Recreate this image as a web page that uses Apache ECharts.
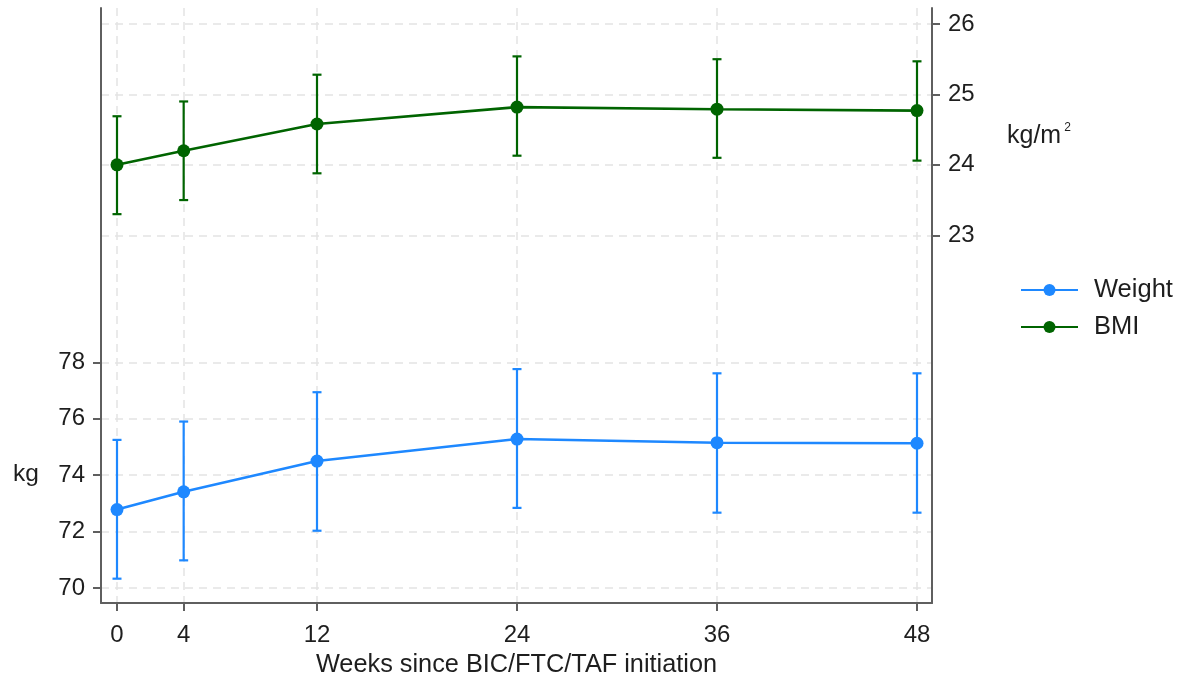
<!DOCTYPE html>
<html>
<head>
<meta charset="utf-8">
<script src="https://cdn.jsdelivr.net/npm/echarts@6/dist/echarts.min.js"></script>
<style>
  html, body { margin: 0; padding: 0; background: #fff; }
  #chart { width: 1185px; height: 686px; }
</style>
</head>
<body>
<div id="chart"></div>
<script>
// Visit weeks and summary values (mean with 95% CI)
const weeks = [0, 4, 12, 24, 36, 48];
const weightMean = [72.78, 73.41, 74.50, 75.28, 75.15, 75.13];
const weightLow  = [70.33, 70.98, 72.03, 72.84, 72.67, 72.67];
const weightHigh = [75.25, 75.90, 76.94, 77.76, 77.61, 77.61];
const bmiMean = [24.00, 24.20, 24.58, 24.82, 24.79, 24.77];
const bmiLow  = [23.30, 23.50, 23.88, 24.13, 24.10, 24.06];
const bmiHigh = [24.69, 24.90, 25.28, 25.54, 25.50, 25.47];

// Tick labels
const weekTicks = [0, 4, 12, 24, 36, 48];
const kgTicks = [70, 72, 74, 76, 78];
const bmiTicks = [23, 24, 25, 26];

const FONT = "'Liberation Sans', Arial, sans-serif";
const TEXT = '#1e1e1e';
const AXIS = '#5f5f5f';
const GRID = '#e3e3e3';
const BLUE = '#1e88ff';
const GREEN = '#006400';

const pairs = (xs, ys) => xs.map((x, i) => [x, ys[i]]);
const ranges = (xs, lo, hi) => xs.map((x, i) => [x, lo[i], hi[i]]);

function errorBars(color) {
  return function (params, api) {
    const x = api.value(0);
    const lo = api.coord([x, api.value(1)]);
    const hi = api.coord([x, api.value(2)]);
    const cap = 4.5;
    const style = { stroke: color, lineWidth: 2.2, fill: null };
    return {
      type: 'group',
      children: [
        { type: 'line', shape: { x1: lo[0], y1: lo[1], x2: hi[0], y2: hi[1] }, style: style },
        { type: 'line', shape: { x1: lo[0] - cap, y1: lo[1], x2: lo[0] + cap, y2: lo[1] }, style: style },
        { type: 'line', shape: { x1: hi[0] - cap, y1: hi[1], x2: hi[0] + cap, y2: hi[1] }, style: style }
      ]
    };
  };
}

const dashed = { show: true, lineStyle: { color: GRID, type: [8, 6], width: 1.5 } };
const axisLine = { show: true, onZero: false, lineStyle: { color: AXIS, width: 2 } };
const axisTick = (vals) => ({ show: true, length: 8, lineStyle: { color: AXIS, width: 2 }, customValues: vals });
const axisLabel = (vals, margin) => ({
  show: true, customValues: vals, margin: margin,
  color: TEXT, fontSize: 24, fontFamily: FONT
});

const chart = echarts.init(document.getElementById('chart'), null, { renderer: 'canvas' });

chart.setOption({
  animation: false,
  backgroundColor: '#ffffff',
  textStyle: { fontFamily: FONT },
  grid: { left: 101, right: 253, top: 8, bottom: 83, containLabel: false },
  legend: {
    data: ['Weight', 'BMI'],
    orient: 'vertical',
    left: 1020,
    top: 277,
    itemWidth: 57,
    itemHeight: 15,
    itemGap: 11,
    padding: 0,
    textStyle: { color: TEXT, fontSize: 25.5, fontFamily: FONT, padding: [0, 0, 0, 11] }
  },
  xAxis: {
    type: 'value',
    min: -0.96,
    max: 48.9,
    name: 'Weeks since BIC/FTC/TAF initiation',
    nameLocation: 'middle',
    nameGap: 50,
    nameTextStyle: { color: TEXT, fontSize: 25.3, fontFamily: FONT },
    axisLine: axisLine,
    axisTick: axisTick(weekTicks),
    axisLabel: axisLabel(weekTicks, 20),
    splitLine: dashed
  },
  yAxis: [
    {
      type: 'value',
      position: 'left',
      min: 69.468,
      max: 90.56,
      axisLine: axisLine,
      axisTick: axisTick(kgTicks),
      axisLabel: axisLabel(kgTicks, 16),
      splitLine: dashed
    },
    {
      type: 'value',
      position: 'right',
      min: 17.779,
      max: 26.227,
      axisLine: axisLine,
      axisTick: axisTick(bmiTicks),
      axisLabel: axisLabel(bmiTicks, 16),
      splitLine: dashed
    }
  ],
  series: [
    {
      name: 'Weight CI',
      type: 'custom',
      yAxisIndex: 0,
      renderItem: errorBars(BLUE),
      encode: { x: 0, y: [1, 2] },
      data: ranges(weeks, weightLow, weightHigh),
      z: 2
    },
    {
      name: 'BMI CI',
      type: 'custom',
      yAxisIndex: 1,
      renderItem: errorBars(GREEN),
      encode: { x: 0, y: [1, 2] },
      data: ranges(weeks, bmiLow, bmiHigh),
      z: 2
    },
    {
      name: 'Weight',
      type: 'line',
      yAxisIndex: 0,
      data: pairs(weeks, weightMean),
      symbol: 'circle',
      symbolSize: 13,
      showAllSymbol: true,
      lineStyle: { color: BLUE, width: 2.6 },
      itemStyle: { color: BLUE },
      z: 3
    },
    {
      name: 'BMI',
      type: 'line',
      yAxisIndex: 1,
      data: pairs(weeks, bmiMean),
      symbol: 'circle',
      symbolSize: 13,
      showAllSymbol: true,
      lineStyle: { color: GREEN, width: 2.6 },
      itemStyle: { color: GREEN },
      z: 3
    }
  ]
});

// Axis unit captions placed beside their tick ranges
const kgY = chart.convertToPixel({ yAxisIndex: 0 }, 74);
const bmiY = chart.convertToPixel({ yAxisIndex: 1 }, 24.5);
chart.setOption({
  graphic: [
    {
      type: 'text',
      left: 13,
      top: kgY - 13,
      style: { text: 'kg', fill: TEXT, font: '24.5px ' + FONT }
    },
    {
      type: 'text',
      left: 1007,
      top: bmiY - 8,
      style: {
        text: '{b|kg/m}{s|2}',
        fill: TEXT,
        rich: {
          b: { fontSize: 25, fontFamily: FONT, color: TEXT, verticalAlign: 'bottom', lineHeight: 27 },
          s: { fontSize: 12, fontFamily: FONT, color: TEXT, verticalAlign: 'top', lineHeight: 27, padding: [0, 0, 12, 3] }
        }
      }
    }
  ]
});
</script>
</body>
</html>
